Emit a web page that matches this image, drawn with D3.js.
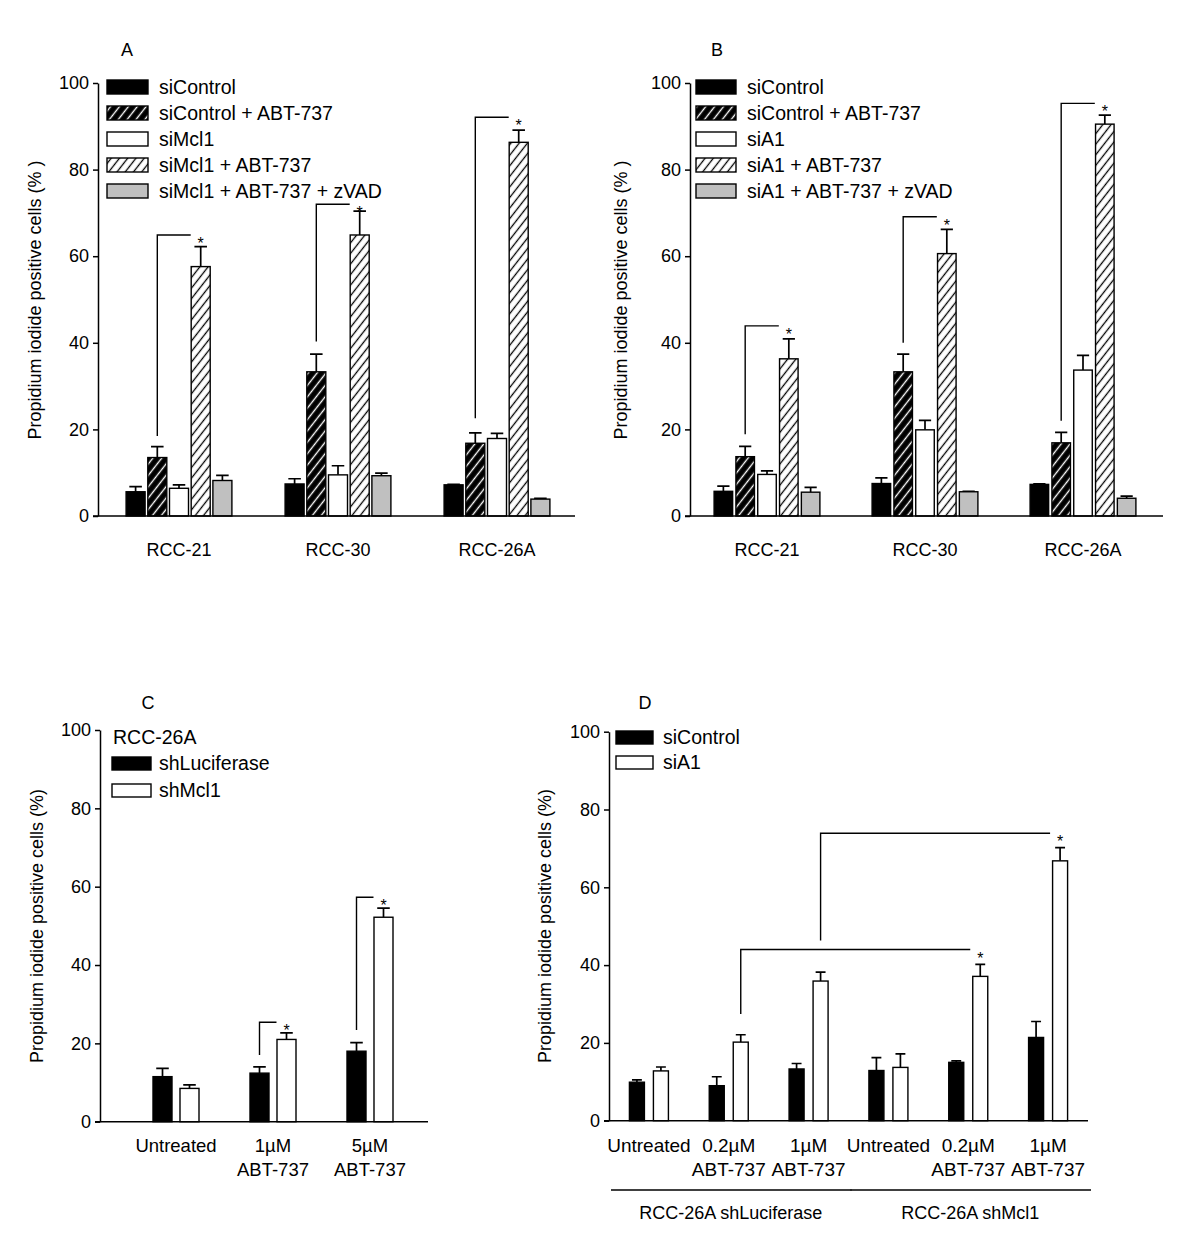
<!DOCTYPE html>
<html><head><meta charset="utf-8">
<script src="https://cdn.jsdelivr.net/npm/d3@7"></script>
<style>html,body{margin:0;padding:0;background:#fff}</style>
</head><body>
<script>
// ---------------- DATA ----------------
const catsA = ["RCC-21", "RCC-30", "RCC-26A"];
const seriesA = ["siControl", "siControl + ABT-737", "siMcl1", "siMcl1 + ABT-737", "siMcl1 + ABT-737 + zVAD"];
const valsA = [[5.6, 13.5, 6.4, 57.6, 8.2], [7.4, 33.3, 9.5, 64.9, 9.3], [7.2, 16.8, 17.9, 86.3, 3.9]];
const errsA = [[1.2, 2.5, 0.8, 4.6, 1.2], [1.2, 4.1, 2.1, 5.5, 0.6], [0.1, 2.4, 1.2, 2.8, 0.2]];
const sigA = [[0, 1, 0, 3, 64.9, 18.5], [1, 1, 1, 3, 72.0, 40.3], [2, 1, 2, 3, 92.1, 22.6]];

const catsB = ["RCC-21", "RCC-30", "RCC-26A"];
const seriesB = ["siControl", "siControl + ABT-737", "siA1", "siA1 + ABT-737", "siA1 + ABT-737 + zVAD"];
const valsB = [[5.7, 13.7, 9.6, 36.3, 5.5], [7.5, 33.3, 19.9, 60.6, 5.6], [7.3, 16.9, 33.7, 90.5, 4.1]];
const errsB = [[1.2, 2.4, 0.8, 4.6, 1.1], [1.3, 4.1, 2.2, 5.6, 0.1], [0.1, 2.4, 3.4, 2.1, 0.5]];
const sigB = [[0, 1, 0, 3, 43.9, 18.9], [1, 1, 1, 3, 69.1, 40.0], [2, 1, 2, 3, 95.3, 22.0]];

const catsC = ["Untreated", "1µM\nABT-737", "5µM\nABT-737"];
const seriesC = ["shLuciferase", "shMcl1"];
const valsC = [[11.5, 8.5], [12.4, 21.0], [18.0, 52.2]];
const errsC = [[2.1, 0.9], [1.6, 1.7], [2.2, 2.3]];
const sigC = [[1, 0, 1, 1, 25.4, 17.0], [2, 0, 2, 1, 57.3, 23.4]];

const catsD = ["Untreated", "0.2µM\nABT-737", "1µM\nABT-737", "Untreated", "0.2µM\nABT-737", "1µM\nABT-737"];
const seriesD = ["siControl", "siA1"];
const valsD = [[9.9, 12.8], [9.0, 20.2], [13.3, 35.9], [12.9, 13.7], [15.0, 37.1], [21.4, 66.8]];
const errsD = [[0.6, 1.0], [2.3, 1.9], [1.4, 2.3], [3.3, 3.5], [0.4, 3.1], [4.1, 3.4]];
const sigD = [[1, 1, 4, 1, 44.0, 27.4], [2, 1, 5, 1, 73.9, 46.3]];
const groupsD = [["RCC-26A shLuciferase", 0, 2], ["RCC-26A shMcl1", 3, 5]];

const yTicks = [0, 20, 40, 60, 80, 100];
const yTitleAB = "Propidium iodide positive cells (% )";
const yTitleCD = "Propidium iodide positive cells (%)";

// ---------------- DRAWING ----------------
const FONT = "'Liberation Sans', Arial, Helvetica, sans-serif";
const svg = d3.select("body").append("svg")
  .attr("width", 1200).attr("height", 1251)
  .style("font-family", FONT);
svg.append("rect").attr("width", 1200).attr("height", 1251).attr("fill", "#fff");
const defs = svg.append("defs");
function hatch(id, bg, fg, size, sw, angle) {
  const p = defs.append("pattern").attr("id", id)
    .attr("patternUnits", "userSpaceOnUse")
    .attr("width", size).attr("height", size)
    .attr("patternTransform", `rotate(${angle})`);
  p.append("rect").attr("width", size).attr("height", size).attr("fill", bg);
  p.append("line").attr("x1", size / 2).attr("x2", size / 2).attr("y1", -1).attr("y2", size + 1)
    .attr("stroke", fg).attr("stroke-width", sw);
}
hatch("hb", "#000", "#fff", 7, 1.4, 38);
hatch("hw", "#fff", "#000", 6.5, 1.3, 38);
const FILL = { black: "#000", blackHatch: "url(#hb)", white: "#fff", whiteHatch: "url(#hw)", gray: "#c0c0c0" };

function panel(o) {
  const g = svg.append("g");
  const y = d3.scaleLinear().domain([0, 100]).range([o.y0, o.y1]);
  const x = d3.scaleBand().domain(d3.range(o.cats.length)).range(o.xr);
  const xs = d3.scaleBand().domain(d3.range(o.series.length)).range([-o.gw / 2, o.gw / 2]).paddingInner(o.pad);
  const bw = xs.bandwidth();
  const barX = (i, j) => x(i) + x.bandwidth() / 2 + xs(j);
  const barC = (i, j) => barX(i, j) + bw / 2;

  const flat = [];
  o.vals.forEach((row, i) => row.forEach((v, j) => flat.push({ i, j, v, e: o.errs[i][j] })));

  // error bars (upper only)
  g.append("g").selectAll("path").data(flat).join("path")
    .attr("d", d => {
      const cx = barC(d.i, d.j), cw = bw * 0.33, yt = y(d.v + d.e);
      return `M${cx},${y(d.v)}V${yt}M${cx - cw},${yt}H${cx + cw}`;
    })
    .attr("stroke", "#000").attr("stroke-width", 1.7).attr("fill", "none");

  // bars
  g.append("g").selectAll("rect").data(flat).join("rect")
    .attr("x", d => barX(d.i, d.j)).attr("y", d => y(d.v))
    .attr("width", bw).attr("height", d => y(0) - y(d.v))
    .attr("fill", d => FILL[o.styles[d.j]])
    .attr("stroke", "#000").attr("stroke-width", 1.4);

  // significance brackets
  g.append("g").selectAll("path").data(o.sig).join("path")
    .attr("d", s => `M${barC(s[0], s[1])},${y(s[5])}V${y(s[4])}H${barC(s[2], s[3]) - 10}`)
    .attr("stroke", "#000").attr("stroke-width", 1.4).attr("fill", "none");
  g.append("g").selectAll("text").data(o.sig).join("text")
    .attr("x", s => barC(s[2], s[3])).attr("y", s => y(s[4]) + 14)
    .attr("text-anchor", "middle").attr("font-size", 16).text("*");

  // y axis
  const ax = g.append("g").attr("transform", `translate(${o.ax},0)`)
    .call(d3.axisLeft(y).tickValues(yTicks).tickSize(5).tickSizeOuter(0).tickPadding(4));
  ax.selectAll("path,line").attr("stroke", "#000").attr("stroke-width", 1.5);
  ax.selectAll("text").attr("font-size", 18).attr("fill", "#000").attr("font-family", FONT);
  // baseline
  g.append("line").attr("x1", o.ax - 5).attr("x2", o.axEnd).attr("y1", y(0)).attr("y2", y(0))
    .attr("stroke", "#000").attr("stroke-width", 1.5);

  // x category labels
  const tl = g.append("g").selectAll("text").data(o.cats).join("text")
    .attr("text-anchor", "middle").attr("font-size", o.tickFont);
  tl.each(function (c, i) {
    const t = d3.select(this);
    c.split("\n").forEach((line, k) => {
      t.append("tspan").attr("x", x(i) + x.bandwidth() / 2).attr("y", o.tickY + k * 24.5).text(line);
    });
  });

  // y title
  g.append("text").attr("transform", `translate(${o.titleX},${o.titleY}) rotate(-90)`)
    .attr("text-anchor", "middle").attr("font-size", 18).text(o.title);

  // panel letter
  g.append("text").attr("x", o.letter[0]).attr("y", o.letter[1])
    .attr("text-anchor", "middle").attr("font-size", 18).text(o.letter[2]);

  // legend
  const L = o.legend;
  if (L.head) {
    g.append("text").attr("x", L.head[0]).attr("y", L.head[1]).attr("dy", "0.35em")
      .attr("font-size", L.font).text(L.head[2]);
  }
  const li = g.append("g").selectAll("g").data(o.series).join("g")
    .attr("transform", (d, j) => `translate(0,${L.y + j * L.step})`);
  li.append("rect").attr("x", L.x).attr("y", 0).attr("width", L.w).attr("height", L.h)
    .attr("fill", (d, j) => FILL[o.styles[j]]).attr("stroke", "#000").attr("stroke-width", 1.4);
  li.append("text").attr("x", L.tx).attr("y", L.h / 2).attr("dy", "0.35em")
    .attr("font-size", L.font).text(d => d);

  return { g, x, y };
}

const stylesABT = ["black", "blackHatch", "white", "whiteHatch", "gray"];

panel({
  cats: catsA, series: seriesA, vals: valsA, errs: errsA, sig: sigA, styles: stylesABT,
  y0: 516, y1: 83, xr: [99.5, 576.5], gw: 105.8, pad: 0.124, ax: 98, axEnd: 575,
  tickY: 555.5, tickFont: 18, title: yTitleAB, titleX: 41, titleY: 300, letter: [127, 56, "A"],
  legend: { x: 107, y: 80, step: 26, w: 41, h: 14, tx: 159, font: 19.5 }
});

panel({
  cats: catsB, series: seriesB, vals: valsB, errs: errsB, sig: sigB, styles: stylesABT,
  y0: 516, y1: 83, xr: [688, 1162], gw: 105.8, pad: 0.15, ax: 690, axEnd: 1163,
  tickY: 555.5, tickFont: 18, title: yTitleAB, titleX: 627, titleY: 300, letter: [717, 56, "B"],
  legend: { x: 696, y: 80, step: 26, w: 40, h: 14, tx: 747, font: 19.5 }
});

panel({
  cats: catsC, series: seriesC, vals: valsC, errs: errsC, sig: sigC, styles: ["black", "white"],
  y0: 1121.7, y1: 730, xr: [127.5, 418.5], gw: 46, pad: 0.296, ax: 100, axEnd: 428,
  tickY: 1151.5, tickFont: 18.5, title: yTitleCD, titleX: 43, titleY: 926, letter: [148, 709, "C"],
  legend: { head: [113, 737, "RCC-26A"], x: 112, y: 757, step: 27, w: 39, h: 13, tx: 159, font: 19.5 }
});

const pD = panel({
  cats: catsD, series: seriesD, vals: valsD, errs: errsD, sig: sigD, styles: ["black", "white"],
  y0: 1120.7, y1: 731.7, xr: [609, 1088], gw: 39, pad: 0.375, ax: 609, axEnd: 1088,
  tickY: 1151.5, tickFont: 19, title: yTitleCD, titleX: 551, titleY: 926, letter: [645, 709, "D"],
  legend: { x: 616, y: 731, step: 25, w: 37, h: 13, tx: 663, font: 19.5 }
});

// group underlines for panel D
const gd = pD.g.append("g").selectAll("g").data(groupsD).join("g");
gd.append("line")
  .attr("x1", d => pD.x(d[1]) + 2).attr("x2", d => pD.x(d[2]) + pD.x.bandwidth() + 3)
  .attr("y1", 1190).attr("y2", 1190).attr("stroke", "#000").attr("stroke-width", 1.4);
gd.append("text")
  .attr("x", d => (pD.x(d[1]) + pD.x(d[2]) + pD.x.bandwidth()) / 2 + 2)
  .attr("y", 1219).attr("text-anchor", "middle").attr("font-size", 18).text(d => d[0]);
</script>
</body></html>
